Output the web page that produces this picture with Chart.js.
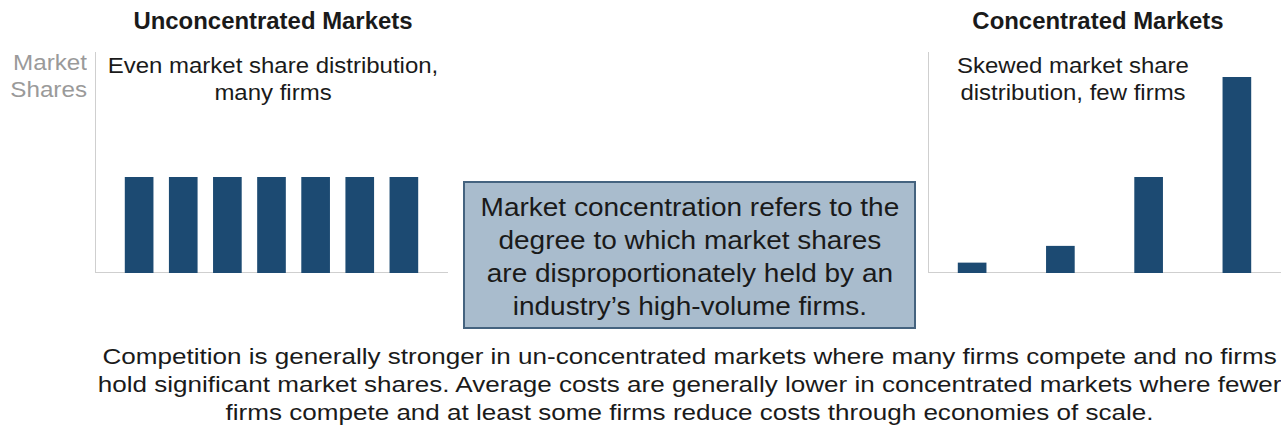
<!DOCTYPE html>
<html>
<head>
<meta charset="utf-8">
<script src="https://cdn.jsdelivr.net/npm/chart.js@4.4.0/dist/chart.umd.min.js"></script>
<style>
  html, body { margin: 0; padding: 0; background: #fff; }
  body { width: 1281px; height: 431px; position: relative; overflow: hidden;
         font-family: "Liberation Sans", Arial, sans-serif; color: #1a1a1a; }
  .abs { position: absolute; }
  .title { font-weight: bold; font-size: 23px; line-height: 26px; text-align: center; white-space: nowrap;
           transform: scaleX(1.04); }
  .sub { font-size: 22px; line-height: 27px; text-align: center; white-space: nowrap;
         transform: scaleX(1.09); }
  .ylab { font-size: 22px; line-height: 27px; text-align: right; color: #9a9a9a;
          transform: scaleX(1.1); transform-origin: right top; }
  .box { background: #a9bccd; border: 2px solid #45637f; box-sizing: border-box;
         font-size: 25px; line-height: 33px; text-align: center; display: flex;
         align-items: center; justify-content: center; }
  .caption { font-size: 22px; line-height: 28px; text-align: center; white-space: nowrap; }
  .chartwrap { position: absolute; }
</style>
</head>
<body>

<script>
// firms in each market and their shares (same y units for both panels)
const evenFirms = ['Firm 1', 'Firm 2', 'Firm 3', 'Firm 4', 'Firm 5', 'Firm 6', 'Firm 7'];
const evenShares = [14.3, 14.3, 14.3, 14.3, 14.3, 14.3, 14.3];

const skewFirms = ['Firm A', 'Firm B', 'Firm C', 'Firm D'];
const skewShares = [1.5, 4.0, 14.3, 29.2];

const yMax = 33;
const barColor = '#1c4a72';
const axisColor = '#cfcfcf';
</script>

<div class="abs title" style="left:133px; top:8px; width:280px;">Unconcentrated Markets</div>
<div class="abs title" style="left:958px; top:8px; width:280px;">Concentrated Markets</div>

<div class="abs ylab" style="left:0px; top:49px; width:87px;">Market<br>Shares</div>

<div class="abs sub" style="left:100px; top:52px; width:346px;">Even market share distribution,<br>many firms</div>
<div class="abs sub" style="left:940px; top:52px; width:266px;">Skewed market share<br>distribution, few firms</div>

<div class="chartwrap" style="left:95px; top:52px; width:353px; height:221px;"><canvas id="evenChart"></canvas></div>
<div class="chartwrap" style="left:928px; top:52px; width:353px; height:221px;"><canvas id="skewChart"></canvas></div>

<div class="abs box" style="left:463px; top:181px; width:453px; height:148px;">
  <div style="transform: scaleX(1.12); padding-top:4px;">Market concentration refers to the<br>degree to which market shares<br>are disproportionately held by an<br>industry’s high-volume firms.</div>
</div>

<div class="abs caption" style="left:49px; top:343px; width:1281px;">
  <div style="transform: scaleX(1.184); transform-origin: 640px 0;">Competition is generally stronger in un-concentrated markets where many firms compete and no firms<br>hold significant market shares. Average costs are generally lower in concentrated markets where fewer<br>firms compete and at least some firms reduce costs through economies of scale.</div>
</div>

<script>
function makePanel(id, firms, shares, xMin, xMax) {
  const ctx = document.getElementById(id).getContext('2d');
  return new Chart(ctx, {
    type: 'bar',
    data: {
      datasets: [{
        label: 'Market share',
        data: firms.map((f, i) => ({ x: i + 1, y: shares[i], firm: f })),
        backgroundColor: barColor,
        borderWidth: 0,
        barThickness: 28
      }]
    },
    options: {
      responsive: true,
      maintainAspectRatio: false,
      animation: false,
      layout: { padding: 0 },
      scales: {
        x: {
          type: 'linear',
          min: xMin,
          max: xMax,
          offset: false,
          ticks: { display: false },
          grid: { display: false, drawTicks: false, offset: false },
          border: { display: true, color: axisColor, width: 2 }
        },
        y: {
          min: 0,
          max: yMax,
          ticks: { display: false },
          grid: { display: false, drawTicks: false },
          border: { display: true, color: axisColor, width: 2 }
        }
      },
      plugins: {
        legend: { display: false },
        tooltip: { enabled: false }
      }
    }
  });
}

makePanel('evenChart', evenFirms, evenShares, 0, 8);
makePanel('skewChart', skewFirms, skewShares, 0.5, 4.5);
</script>
</body>
</html>
